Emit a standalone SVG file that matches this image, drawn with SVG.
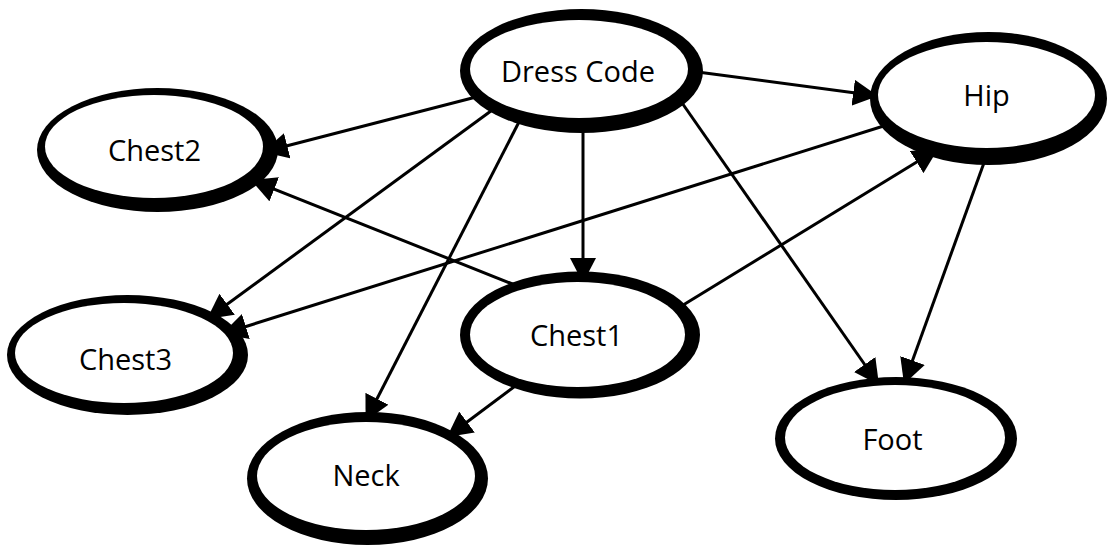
<svg xmlns="http://www.w3.org/2000/svg" width="1107" height="547" viewBox="0 0 1107 547">
<style>
.bg{fill:#fff}
.edge{stroke:#000;stroke-width:3;fill:none;marker-end:url(#ah)}
.ring{fill:#000}
.face{fill:#fff}
.lbl{font-family:"Open Sans","Liberation Sans",sans-serif;font-size:29px;fill:#000;text-anchor:middle}
</style>
<defs>
<marker id="ah" viewBox="0 0 25 26" refX="25" refY="13" markerWidth="25" markerHeight="26" markerUnits="userSpaceOnUse" orient="auto">
<path d="M0,0 L25,13 L0,26 z" fill="#000"/>
</marker>
</defs>
<rect class="bg" x="0" y="0" width="1107" height="547"/>
<g id="connectors">
<line class="edge" x1="480" y1="96" x2="263" y2="152"/>
<line class="edge" x1="520" y1="287" x2="251" y2="180"/>
<line class="edge" x1="495" y1="108" x2="207" y2="319"/>
<line class="edge" x1="890" y1="124" x2="222" y2="334"/>
<line class="edge" x1="520" y1="120" x2="365.6" y2="421"/>
<line class="edge" x1="530" y1="375" x2="447" y2="437"/>
<line class="edge" x1="583" y1="120" x2="583" y2="283"/>
<line class="edge" x1="690" y1="71" x2="878" y2="96"/>
<line class="edge" x1="675" y1="310" x2="938" y2="149"/>
<line class="edge" x1="680" y1="100" x2="879" y2="385"/>
<line class="edge" x1="985" y1="160" x2="904" y2="384"/>
</g>
<g id="dresscode">
<ellipse class="ring" cx="581.5" cy="71" rx="121.5" ry="62"/>
<ellipse class="face" cx="579" cy="69" rx="109" ry="49"/>
<text class="lbl" x="578" y="82">Dress Code</text>
</g>
<g id="chest2">
<ellipse class="ring" cx="157.5" cy="150" rx="120.5" ry="62"/>
<ellipse class="face" cx="154" cy="146.5" rx="109" ry="51.5"/>
<text class="lbl" x="154.5" y="161">Chest2</text>
</g>
<g id="chest3">
<ellipse class="ring" cx="127.5" cy="355" rx="120.5" ry="60"/>
<ellipse class="face" cx="124" cy="353" rx="109" ry="50"/>
<text class="lbl" x="125.5" y="370">Chest3</text>
</g>
<g id="chest1">
<ellipse class="ring" cx="580" cy="335" rx="120" ry="63.5"/>
<ellipse class="face" cx="577.5" cy="334.5" rx="107.5" ry="52.5"/>
<text class="lbl" x="576.5" y="346">Chest1</text>
</g>
<g id="neck">
<ellipse class="ring" cx="367.5" cy="478.5" rx="120.5" ry="66.5"/>
<ellipse class="face" cx="366" cy="476" rx="109" ry="54"/>
<text class="lbl" x="366" y="486">Neck</text>
</g>
<g id="foot">
<ellipse class="ring" cx="896" cy="438.5" rx="121" ry="61.5"/>
<ellipse class="face" cx="895" cy="437.5" rx="110" ry="52.5"/>
<text class="lbl" x="892.5" y="450">Foot</text>
</g>
<g id="hip">
<ellipse class="ring" cx="988.5" cy="98.5" rx="118.5" ry="66.5"/>
<ellipse class="face" cx="986.5" cy="95" rx="108.5" ry="53"/>
<text class="lbl" x="986.5" y="106">Hip</text>
</g>
</svg>
